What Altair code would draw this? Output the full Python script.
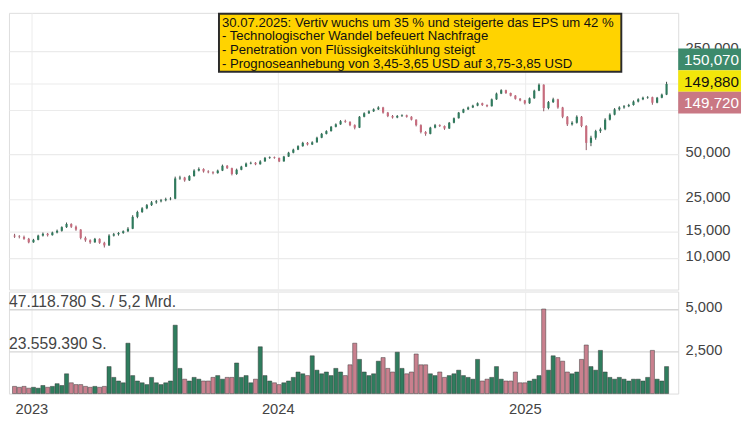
import altair as alt
import pandas as pd

# Weekly candles (Wednesday of each week), Dec 2022 - Jul 2025
week_dates = pd.date_range("2022-12-07", periods=139, freq="7D")

opens = [
    14.2, 14.0, 13.9, 13.5, 12.8, 13.3, 14.2, 14.6, 14.3, 14.9,
    15.3, 16.2, 17.0, 16.3, 15.6, 13.7, 13.2, 12.8, 13.5, 12.7,
    12.2, 14.2, 14.5, 14.8, 15.2, 15.8, 19.0, 20.5, 21.7, 22.8,
    23.8, 24.2, 24.6, 25.0, 25.2, 34.5, 35.0, 33.5, 35.8, 39.0,
    40.0, 38.5, 38.0, 37.5, 39.0, 42.0, 40.5, 37.0, 39.5, 41.5,
    43.5, 44.0, 43.0, 45.0, 47.5, 48.0, 47.5, 45.0, 48.5, 51.5,
    54.0, 57.0, 60.0, 58.5, 60.5, 65.0, 69.0, 72.0, 77.0, 80.0,
    84.0, 83.0, 79.0, 76.0, 90.0, 95.0, 98.0, 101.0, 104.0, 96.0,
    91.0, 89.0, 91.0, 92.0, 90.0, 86.0, 79.0, 71.0, 69.0, 76.0,
    79.0, 78.0, 75.0, 82.0, 88.0, 96.0, 101.0, 104.0, 107.0, 111.0,
    108.0, 106.0, 118.0, 129.0, 136.0, 130.0, 125.0, 119.0, 116.0, 111.0,
    120.0, 135.0, 148.0, 103.0, 113.0, 118.0, 104.0, 90.0, 80.0, 82.0,
    90.0, 78.0, 60.0, 65.0, 72.0, 74.0, 86.0, 93.0, 101.0, 104.0,
    106.0, 108.0, 114.0, 118.0, 121.0, 122.0, 112.0, 121.0, 127.0,
]
highs = [
    14.6, 14.3, 14.2, 13.7, 13.5, 14.4, 14.9, 14.8, 15.1, 15.6,
    16.4, 17.4, 17.2, 16.6, 15.7, 14.0, 13.4, 13.7, 13.6, 12.9,
    14.5, 14.8, 15.0, 15.4, 16.2, 19.5, 20.9, 22.1, 23.2, 24.3,
    24.7, 25.1, 25.6, 25.8, 35.5, 36.0, 35.4, 36.3, 39.8, 41.0,
    40.4, 39.2, 38.6, 39.6, 42.8, 42.5, 40.8, 40.2, 42.0, 44.2,
    44.8, 44.5, 45.8, 48.2, 48.6, 48.5, 47.7, 49.0, 52.2, 54.8,
    57.8, 61.0, 60.8, 61.5, 66.0, 70.0, 73.0, 78.0, 81.2, 85.5,
    86.0, 84.0, 80.0, 91.0, 96.5, 99.5, 102.5, 106.0, 105.0, 97.0,
    92.5, 92.5, 93.5, 93.0, 90.8, 86.5, 80.0, 72.0, 77.0, 80.5,
    80.0, 78.6, 83.0, 89.0, 97.0, 102.0, 105.5, 108.5, 112.5, 112.0,
    109.0, 119.5, 131.0, 138.0, 137.0, 131.0, 126.0, 120.5, 117.0, 121.5,
    137.0, 151.0, 149.0, 115.0, 121.0, 119.0, 105.0, 91.0, 84.0, 92.0,
    91.0, 79.0, 67.0, 73.5, 76.0, 88.0, 95.0, 103.0, 106.0, 108.0,
    110.0, 116.0, 120.0, 123.0, 124.0, 123.0, 122.5, 129.0, 155.0,
]
lows = [
    13.7, 13.6, 13.3, 12.6, 12.7, 13.2, 14.0, 14.0, 14.2, 14.7,
    15.1, 16.0, 16.0, 15.3, 13.4, 12.9, 12.5, 12.7, 12.5, 11.8,
    12.1, 14.0, 14.2, 14.6, 15.0, 15.7, 18.6, 20.2, 21.4, 22.5,
    23.3, 23.8, 24.2, 24.6, 25.0, 33.8, 32.8, 33.2, 35.5, 38.5,
    37.8, 37.4, 36.8, 37.2, 38.7, 40.0, 36.2, 36.5, 39.2, 41.2,
    43.0, 42.4, 42.8, 44.7, 46.8, 46.9, 44.5, 44.8, 48.2, 51.0,
    53.6, 56.5, 57.6, 58.0, 60.2, 64.5, 68.4, 71.5, 76.3, 79.4,
    82.0, 77.8, 74.0, 75.5, 89.2, 94.0, 97.0, 100.0, 94.5, 89.5,
    87.5, 88.0, 89.8, 88.8, 85.0, 77.5, 69.5, 67.0, 68.5, 75.2,
    76.8, 73.5, 74.5, 81.3, 87.5, 95.2, 100.0, 103.0, 106.0, 106.5,
    104.5, 105.5, 117.0, 128.0, 128.5, 123.5, 117.5, 114.5, 109.0, 110.0,
    119.0, 134.0, 98.0, 101.0, 111.5, 102.0, 88.0, 78.0, 78.5, 81.0,
    76.5, 53.6, 57.0, 63.0, 70.0, 73.0, 85.0, 92.0, 99.0, 102.0,
    104.5, 107.0, 112.5, 116.5, 119.0, 108.5, 111.0, 120.0, 126.0,
]
closes = [
    14.0, 13.9, 13.5, 12.8, 13.3, 14.2, 14.6, 14.3, 14.9, 15.3,
    16.2, 17.0, 16.3, 15.6, 13.7, 13.2, 12.8, 13.5, 12.7, 12.2,
    14.2, 14.5, 14.8, 15.2, 15.8, 19.0, 20.5, 21.7, 22.8, 23.8,
    24.2, 24.6, 25.0, 25.2, 34.5, 35.0, 33.5, 35.8, 39.0, 40.0,
    38.5, 38.0, 37.5, 39.0, 42.0, 40.5, 37.0, 39.5, 41.5, 43.5,
    44.0, 43.0, 45.0, 47.5, 48.0, 47.5, 45.0, 48.5, 51.5, 54.0,
    57.0, 60.0, 58.5, 60.5, 65.0, 69.0, 72.0, 77.0, 80.0, 84.0,
    83.0, 79.0, 76.0, 90.0, 95.0, 98.0, 101.0, 104.0, 96.0, 91.0,
    89.0, 91.0, 92.0, 90.0, 86.0, 79.0, 71.0, 69.0, 76.0, 79.0,
    78.0, 75.0, 82.0, 88.0, 96.0, 101.0, 104.0, 107.0, 111.0, 108.0,
    106.0, 118.0, 129.0, 136.0, 130.0, 125.0, 119.0, 116.0, 111.0, 120.0,
    135.0, 148.0, 103.0, 113.0, 118.0, 104.0, 90.0, 80.0, 82.0, 90.0,
    78.0, 60.0, 65.0, 72.0, 74.0, 86.0, 93.0, 101.0, 104.0, 106.0,
    108.0, 114.0, 118.0, 121.0, 122.0, 112.0, 121.0, 127.0, 149.88,
]
# volume in millions of shares (as drawn)
volumes = [
    4, 3.5, 4, 3, 3.5, 3, 4.5, 3.5, 4, 5.5,
    4.5, 11, 6, 5, 5, 4, 3.5, 4, 3.5, 4,
    15, 9, 7, 6, 28, 10, 7, 6, 5, 9,
    6, 5, 6, 7, 38, 14, 8, 7, 9, 8,
    7, 7, 9, 10, 8, 9, 9, 17, 9, 10,
    6, 8, 26, 10, 7, 6, 5, 6, 7, 9,
    12, 11, 10, 21, 13, 11, 12, 10, 14, 12,
    10, 16, 28, 19, 12, 10, 11, 18, 20, 14,
    12, 23, 14, 11, 12, 22, 16, 16, 11, 10,
    12, 9, 10, 11, 13, 10, 9, 8, 19, 7,
    8, 9, 15, 8, 7, 7, 12, 6, 6, 7,
    8, 10, 47, 13, 21, 20, 18, 12, 11, 12,
    19, 27, 15, 13, 24, 12, 9, 8, 9, 8,
    7, 8, 8, 7, 9, 24, 8, 7, 15,
]

price_ticks = [10, 15, 25, 50, 100, 150, 250]
vol_ticks = [23.55939, 47.11878]
vol_left_labels = ["23.559.390 S.", "47.118.780 S. / 5,2 Mrd."]
last_quotes = [150.070, 149.880, 149.720]
annotation = [
    "30.07.2025: Vertiv wuchs um 35 % und steigerte das EPS um 42 %",
    "- Technologischer Wandel befeuert Nachfrage",
    "- Penetration von Flüssigkeitskühlung steigt",
    "- Prognoseanhebung von 3,45-3,65 USD auf 3,75-3,85 USD",
]

df = pd.DataFrame({
    "date": week_dates, "open": opens, "high": highs,
    "low": lows, "close": closes, "volume": volumes,
})
one = pd.DataFrame({"k": [0]})

FONT = "Liberation Sans"
W = 682
H_PRICE = 282
H_VOL = 104

UP_BODY, DOWN_BODY = "#2f7a5d", "#c76b7d"
UP_WICK, DOWN_WICK = "#3c4a44", "#8a5560"
UP_VOL, DOWN_VOL = "#2f7d5e", "#c9808e"
is_up = "datum.close >= datum.open"

xscale = alt.Scale(domain=[alt.DateTime(year=2022, month=12, date=6),
                           alt.DateTime(year=2025, month=8, date=9)])
year_vals = [alt.DateTime(year=y, month=1, date=1) for y in (2023, 2024, 2025)]

x_price = alt.X("date:T", scale=xscale, title=None,
                axis=alt.Axis(values=year_vals, labels=False, ticks=False,
                              domain=False, grid=True, gridColor="#ececec"))
yscale = alt.Scale(type="log", domain=[6.14, 452.4], nice=False)
y_axis = alt.Axis(orient="right", values=price_ticks, title=None, ticks=False,
                  domain=False, grid=True, gridColor="#ebebeb", gridWidth=1.2,
                  labelPadding=7, labelOffset=-3, labelFont=FONT,
                  labelFontSize=15, labelColor="#444",
                  labelExpr="(datum.value == 100 || datum.value == 150) ? '' : "
                            "replace(format(datum.value, '.3f'), '.', ',')")

base = alt.Chart(df).encode(x=x_price)
wick = base.mark_rule(strokeWidth=1).encode(
    y=alt.Y("low:Q", scale=yscale, axis=y_axis), y2="high:Q",
    color=alt.condition(is_up, alt.value(UP_WICK), alt.value(DOWN_WICK)))
body = base.mark_bar(width=2.2).encode(
    y="open:Q", y2="close:Q",
    color=alt.condition(is_up, alt.value(UP_BODY), alt.value(DOWN_BODY)))

ann_box = alt.Chart(one).mark_rect(fill="#ffd300", stroke="#2b2b2b", strokeWidth=2).encode(
    x=alt.value(214), x2=alt.value(624), y=alt.value(1), y2=alt.value(60))
ann_text = alt.Chart(one).mark_text(
    text=annotation, align="left", baseline="top", font=FONT, fontSize=13.4,
    lineHeight=14, color="#111").encode(x=alt.value(217), y=alt.value(3))

def fmt(v):
    return f"{v:.3f}".replace(".", ",")

box_specs = [(-36, -14, "#3d8a6c", "white", last_quotes[0]),
             (-14, 8, "#f2e60a", "#111", last_quotes[1]),
             (8, 30, "#c97884", "white", last_quotes[2])]
box_layers = []
for y0, y1, fill, tcol, q in box_specs:
    box_layers.append(alt.Chart(one).mark_rect(fill=fill, yOffset=y0, y2Offset=y1).encode(
        x=alt.value(W), x2=alt.value(W + 64),
        y=alt.datum(last_quotes[1]), y2=alt.datum(last_quotes[1])))
    box_layers.append(alt.Chart(one).mark_text(
        text=fmt(q), align="left", baseline="middle", font=FONT, fontSize=15.5,
        color=tcol, yOffset=(y0 + y1) / 2 + 1).encode(
        x=alt.value(W + 6), y=alt.datum(last_quotes[1])))

price = alt.layer(wick, body, ann_box, ann_text, *box_layers).properties(
    width=W, height=H_PRICE)

# Volume panel
x_vol = alt.X("date:T", scale=xscale, title=None,
              axis=alt.Axis(values=year_vals, format="%Y", ticks=False, domain=False,
                            grid=True, gridColor="#ececec", labelPadding=8,
                            labelFont=FONT, labelFontSize=15, labelColor="#444"))
vscale = alt.Scale(domain=[0, 56.7], nice=False, zero=True)
v_axis = alt.Axis(orient="right", values=vol_ticks, title=None, ticks=False,
                  domain=False, grid=True, gridColor="#d6d6d6", gridWidth=1.5,
                  labelPadding=7, labelOffset=-2, labelFont=FONT,
                  labelFontSize=15, labelColor="#444",
                  labelExpr="datum.value > 40 ? '5,000' : '2,500'")
vol_bars = alt.Chart(df).mark_bar(width=4.2, stroke="#3a3a3a", strokeWidth=0.5).encode(
    x=x_vol, y=alt.Y("volume:Q", scale=vscale, axis=v_axis),
    color=alt.condition(is_up, alt.value(UP_VOL), alt.value(DOWN_VOL)))
vol_txt = [alt.Chart(one).mark_text(
    text=lbl, align="left", baseline="alphabetic", font=FONT, fontSize=16,
    color="#444", dy=-2).encode(x=alt.value(0), y=alt.datum(v))
    for lbl, v in zip(vol_left_labels, vol_ticks)]
vol = alt.layer(vol_bars, *vol_txt).properties(width=W, height=H_VOL)

chart = alt.vconcat(price, vol, spacing=0).properties(
    padding={"left": 0, "top": 0, "right": 0, "bottom": 0}
).configure_view(stroke=None).configure(background="white")

chart.save("out.html", embed_options={"renderer": "svg", "actions": False})
